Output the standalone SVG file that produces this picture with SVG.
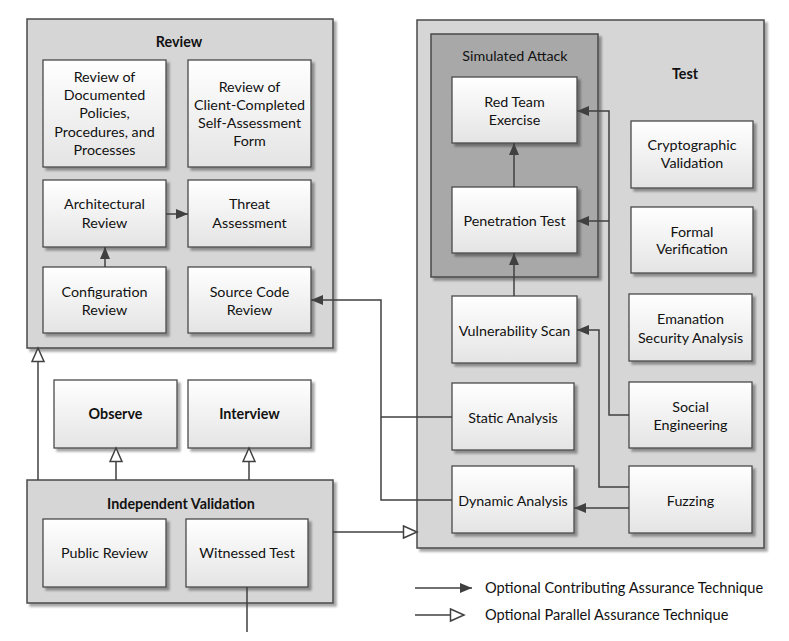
<svg xmlns="http://www.w3.org/2000/svg" width="789" height="641" viewBox="0 0 789 641">
<defs>
<linearGradient id="g" x1="0" y1="0" x2="0" y2="1"><stop offset="0" stop-color="#ffffff"/><stop offset="1" stop-color="#e4e4e4"/></linearGradient>
<filter id="sh" x="-10%" y="-10%" width="130%" height="130%"><feDropShadow dx="3" dy="3" stdDeviation="1" flood-color="#000" flood-opacity="0.35"/></filter>
<marker id="af" markerUnits="userSpaceOnUse" markerWidth="13" markerHeight="11" refX="12" refY="5.5" orient="auto"><path d="M0,0.5 L12,5.5 L0,10.5 z" fill="#404040"/></marker>
<marker id="ao" markerUnits="userSpaceOnUse" markerWidth="17" markerHeight="15" refX="15" refY="7.5" orient="auto"><path d="M1.5,1.5 L15,7.5 L1.5,13.5 z" fill="#fff" stroke="#404040" stroke-width="1.5"/></marker>
</defs>
<style>
.c{fill:#d6d6d6;stroke:#4a4a4a;stroke-width:1.5;filter:url(#sh)}
.sa{fill:#a8a8a8;stroke:#4a4a4a;stroke-width:1.5;filter:url(#sh)}
.n{fill:url(#g);stroke:#4a4a4a;stroke-width:1.3;filter:url(#sh)}
text{font-family:Lato,"Liberation Sans",sans-serif;font-size:14.3px;fill:#111;text-anchor:middle}
.b{font-weight:bold}
.l{font-size:14.6px;text-anchor:start}
.e{fill:none;stroke:#404040;stroke-width:1.5}
.f{marker-end:url(#af)}
.o{marker-end:url(#ao)}
</style>
<rect width="789" height="641" fill="#fff"/>

<g id="review">
<rect class="c" x="27" y="19" width="306" height="329"/>
<text class="b" x="179" y="47">Review</text>
</g>
<g id="test">
<rect class="c" x="417" y="20" width="347" height="528"/>
<text class="b" x="685" y="79">Test</text>
</g>
<g id="simulated-attack">
<rect class="sa" x="431" y="34" width="167" height="243"/>
<text x="515" y="60.5">Simulated Attack</text>
</g>
<g id="independent-validation">
<rect class="c" x="27" y="480" width="306" height="123"/>
<text class="b" x="181" y="509">Independent Validation</text>
</g>

<g id="review-documented">
<rect class="n" x="43" y="60" width="123" height="107"/>
<text x="104.5" y="82">Review of</text>
<text x="104.5" y="100">Documented</text>
<text x="104.5" y="118">Policies,</text>
<text x="104.5" y="136.5">Procedures, and</text>
<text x="104.5" y="154.5">Processes</text>
</g>
<g id="review-client">
<rect class="n" x="188" y="60" width="123" height="107"/>
<text x="249.5" y="92">Review of</text>
<text x="249.5" y="110">Client-Completed</text>
<text x="249.5" y="128">Self-Assessment</text>
<text x="249.5" y="146">Form</text>
</g>
<g id="architectural-review">
<rect class="n" x="43" y="180" width="123" height="67"/>
<text x="104.5" y="209">Architectural</text>
<text x="104.5" y="227.5">Review</text>
</g>
<g id="threat-assessment">
<rect class="n" x="188" y="180" width="123" height="67"/>
<text x="249.5" y="209">Threat</text>
<text x="249.5" y="227.5">Assessment</text>
</g>
<g id="configuration-review">
<rect class="n" x="43" y="267" width="123" height="66"/>
<text x="104.5" y="297">Configuration</text>
<text x="104.5" y="314.5">Review</text>
</g>
<g id="source-code-review">
<rect class="n" x="188" y="267" width="123" height="66"/>
<text x="249.5" y="297">Source Code</text>
<text x="249.5" y="314.5">Review</text>
</g>

<g id="red-team">
<rect class="n" x="452" y="77" width="125" height="66"/>
<text x="514.5" y="106.5">Red Team</text>
<text x="514.5" y="124.5">Exercise</text>
</g>
<g id="penetration-test">
<rect class="n" x="452" y="187" width="125" height="66"/>
<text x="514.5" y="226">Penetration Test</text>
</g>
<g id="cryptographic-validation">
<rect class="n" x="631" y="121" width="122" height="67"/>
<text x="692" y="150">Cryptographic</text>
<text x="692" y="168">Validation</text>
</g>
<g id="formal-verification">
<rect class="n" x="631" y="207" width="122" height="66"/>
<text x="692" y="237">Formal</text>
<text x="692" y="254">Verification</text>
</g>
<g id="vulnerability-scan">
<rect class="n" x="452" y="296" width="125" height="67"/>
<text x="514.5" y="336">Vulnerability Scan</text>
</g>
<g id="emanation">
<rect class="n" x="629" y="294" width="123" height="67"/>
<text x="690.5" y="324">Emanation</text>
<text x="690.5" y="342.5">Security Analysis</text>
</g>
<g id="static-analysis">
<rect class="n" x="452" y="383" width="122" height="67"/>
<text x="513" y="423">Static Analysis</text>
</g>
<g id="social-engineering">
<rect class="n" x="629" y="382" width="123" height="66"/>
<text x="690.5" y="412">Social</text>
<text x="690.5" y="430">Engineering</text>
</g>
<g id="dynamic-analysis">
<rect class="n" x="452" y="466" width="122" height="67"/>
<text x="513" y="506">Dynamic Analysis</text>
</g>
<g id="fuzzing">
<rect class="n" x="629" y="466" width="123" height="67"/>
<text x="690.5" y="506">Fuzzing</text>
</g>

<g id="observe">
<rect class="n" x="54" y="380" width="123" height="68"/>
<text class="b" x="115.5" y="419">Observe</text>
</g>
<g id="interview">
<rect class="n" x="188" y="380" width="123" height="68"/>
<text class="b" x="249.5" y="419">Interview</text>
</g>
<g id="public-review">
<rect class="n" x="43" y="519" width="123" height="68"/>
<text x="104.5" y="558">Public Review</text>
</g>
<g id="witnessed-test">
<rect class="n" x="186" y="519" width="122" height="68"/>
<text x="247" y="558">Witnessed Test</text>
</g>

<g id="connectors">
<path class="e f" d="M166,214 H188"/>
<path class="e f" d="M105,267 V247"/>
<path class="e f" d="M452,500 H381 V300 H311"/>
<path class="e" d="M452,417 H381"/>
<path class="e f" d="M514,187 V143"/>
<path class="e f" d="M514,296 V253"/>
<path class="e f" d="M629,415 H609 V111 H577"/>
<path class="e f" d="M609,221 H577"/>
<path class="e f" d="M629,487 H599 V330 H577"/>
<path class="e f" d="M629,508 H574"/>
<path class="e o" d="M333,532 H417"/>
<path class="e o" d="M38,480 V348"/>
<path class="e o" d="M116,480 V448"/>
<path class="e o" d="M249,480 V448"/>
<path class="e" d="M247,587 V632"/>
</g>

<g id="legend">
<path class="e f" d="M415,588 H472"/>
<path class="e o" d="M415,615 H464"/>
<text class="l" x="485" y="593">Optional Contributing Assurance Technique</text>
<text class="l" x="485" y="620">Optional Parallel Assurance Technique</text>
</g>
</svg>
